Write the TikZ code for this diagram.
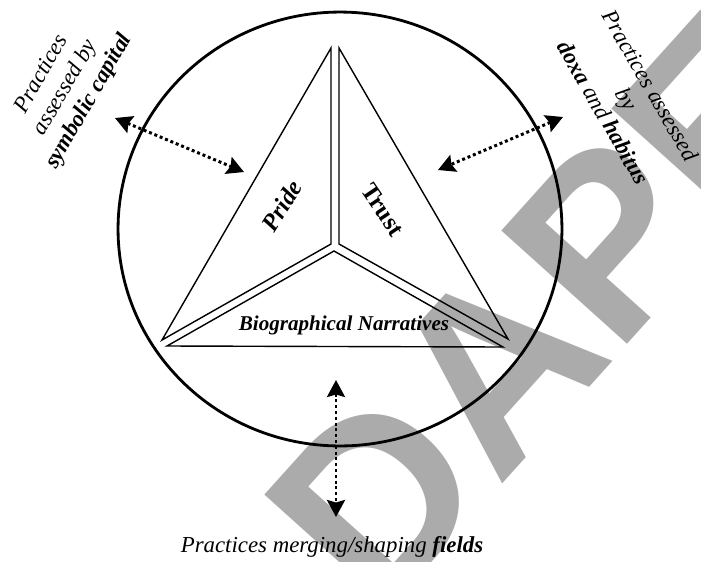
\documentclass[tikz,border=0pt]{standalone}
\usepackage{fontspec}
\setmainfont{Liberation Serif}
\newfontfamily\markfont{Liberation Sans}
\usetikzlibrary{arrows.meta}

\begin{document}
\begin{tikzpicture}[x=0.02cm,y=-0.02cm,
  >={Stealth[length=3.4mm,width=3.6mm,inset=0.5mm]},
  side/.style={draw,line width=0.8pt},
  link/.style={<->,line width=1.7pt,dash pattern=on 1.7pt off 1.6pt},
  outer/.style={line width=1.6pt},
  lbl/.style={font=\fontsize{13}{15.5}\selectfont\itshape,align=center,inner sep=0pt},
  part/.style={font=\fontsize{14}{16}\selectfont\bfseries,inner sep=0pt},
  watermark/.style={font=\fontsize{140}{140}\selectfont\markfont\bfseries,text=black!33,inner sep=0pt}]
  \useasboundingbox (0,0) rectangle (701,562);
  \begin{scope}
    \clip (0,0) rectangle (701,562);
    \node[watermark,rotate=48] (wm) at (545,310) {DAPE};
  \end{scope}
  % field circle
  \draw[outer] (340,229) ellipse [x radius=4.44cm,y radius=4.34cm];
  % three parts
  \draw[side] (331,48) -- (331,244) -- (162,340) -- cycle;
  \draw[side] (339,48) -- (339,244) -- (508,339) -- cycle;
  \draw[side] (334,251) -- (503,347) -- (167,346) -- cycle;
  \node[part,rotate=58,font=\fontsize{14}{16}\selectfont\bfseries\itshape] (pride) at (282,206) {Pride};
  \node[part,rotate=-56] (trust) at (383,210) {Trust};
  \node[part,font=\fontsize{12}{14}\selectfont\bfseries\itshape] (bio) at (344,325) {Biographical Narratives};
  % practices
  \node[lbl,rotate=60] (capital) at (66,88) {Practices\\assessed by\\\textbf{symbolic capital}};
  \node[lbl,rotate=-60] (doxa) at (627,99) {Practices assessed\\by\\\textbf{doxa} and \textbf{habitus}};
  \node[lbl] (fields) at (332,547) {Practices merging/shaping \textbf{fields}};
  \coordinate (capEnd) at (115,118);
  \coordinate (prideEnd) at (244,172);
  \coordinate (doxaEnd) at (563,117);
  \coordinate (trustEnd) at (438,170);
  \coordinate (bioEnd) at (336,380);
  \coordinate (fieldsEnd) at (336,517);
  \draw[link] (capEnd) -- (prideEnd);
  \draw[link] (doxaEnd) -- (trustEnd);
  \draw[link] (bioEnd) -- (fieldsEnd);
\end{tikzpicture}
\end{document}
